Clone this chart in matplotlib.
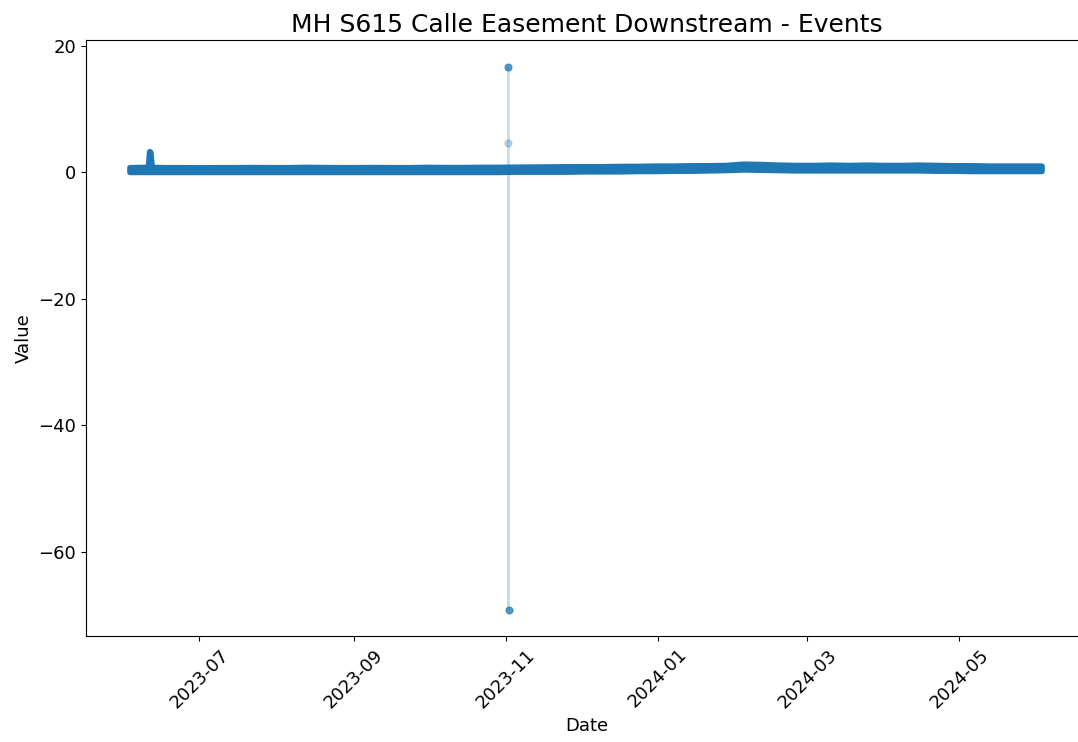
import matplotlib
matplotlib.use("Agg")
import matplotlib.pyplot as plt
import matplotlib.dates as mdates
import pandas as pd
import numpy as np

# ---- data ----
band_start = "2023-06-03"
band_end = "2024-06-03"
band_high = [0.80, 0.85, 0.80, 0.80, 0.78, 0.80, 0.80, 0.82, 0.80, 0.80,
             0.85, 0.82, 0.80, 0.80, 0.82, 0.80, 0.80, 0.85, 0.82, 0.82,
             0.85, 0.85, 0.88, 0.90, 0.92, 0.95, 0.95, 0.95, 1.00, 1.00,
             1.05, 1.05, 1.10, 1.10, 1.15, 1.35, 1.30, 1.20, 1.15, 1.15,
             1.20, 1.15, 1.20, 1.15, 1.15, 1.20, 1.15, 1.10, 1.10, 1.05,
             1.05, 1.05, 1.05]
band_low = [0.05, 0.05, 0.05, 0.05, 0.05, 0.05, 0.05, 0.05, 0.05, 0.05,
            0.05, 0.05, 0.05, 0.05, 0.05, 0.05, 0.05, 0.05, 0.05, 0.05,
            0.05, 0.05, 0.10, 0.10, 0.10, 0.10, 0.15, 0.15, 0.15, 0.20,
            0.20, 0.25, 0.25, 0.30, 0.35, 0.45, 0.40, 0.35, 0.30, 0.30,
            0.30, 0.30, 0.30, 0.30, 0.30, 0.30, 0.25, 0.25, 0.20, 0.20,
            0.20, 0.20, 0.20]

june_event_dates = ["2023-06-10 18:00", "2023-06-11 06:00", "2023-06-11 12:00", "2023-06-12 00:00"]
june_event_values = [0.8, 3.2, 3.0, 0.8]

nov_event_dates = ["2023-11-02 00:00", "2023-11-02 01:00", "2023-11-02 02:00",
                   "2023-11-02 03:00", "2023-11-02 04:00"]
nov_event_values = [0.7, 16.6, 4.6, -69.2, 0.7]

title = "MH S615 Calle Easement Downstream - Events"
xlabel = "Date"
ylabel = "Value"

# ---- plot ----
band_dates = pd.date_range(band_start, band_end, periods=len(band_high))
jd = pd.to_datetime(june_event_dates)
nd = pd.to_datetime(nov_event_dates)

fig = plt.figure(figsize=(10.78, 7.42), dpi=100)
ax = fig.add_axes([0.0798, 0.143, 0.9295, 0.803])

blue = "#1f77b4"
ax.fill_between(band_dates, band_low, band_high, color=blue, linewidth=4,
                edgecolor=blue, joinstyle="round", capstyle="round", zorder=3)
ax.plot(jd, june_event_values, color=blue, linewidth=4.5, solid_capstyle="round", zorder=3)

ax.plot(nd, nov_event_values, color=blue, alpha=0.25, linewidth=1.5, zorder=2)
marker_alpha = [0.0, 0.75, 0.3, 0.75, 0.0]
for d, v, a in zip(nd, nov_event_values, marker_alpha):
    if a > 0:
        ax.plot([d], [v], marker="o", markersize=5, color=blue, alpha=a,
                markeredgewidth=0.8, linestyle="none", zorder=4)

ax.set_ylim(-73.3, 20.9)
ax.set_xlim(pd.Timestamp("2023-05-16 14:00"), pd.Timestamp("2024-06-21 16:00"))
ax.xaxis.set_major_locator(mdates.MonthLocator(bymonth=[1, 3, 5, 7, 9, 11]))
ax.xaxis.set_major_formatter(mdates.DateFormatter("%Y-%m"))
ax.set_yticks([-60, -40, -20, 0, 20])
ax.tick_params(labelsize=13)
plt.setp(ax.get_xticklabels(), rotation=45)

ax.set_title(title, fontsize=18)
ax.set_xlabel(xlabel, fontsize=13)
ax.set_ylabel(ylabel, fontsize=13)

fig.savefig("out.png", dpi=100)
